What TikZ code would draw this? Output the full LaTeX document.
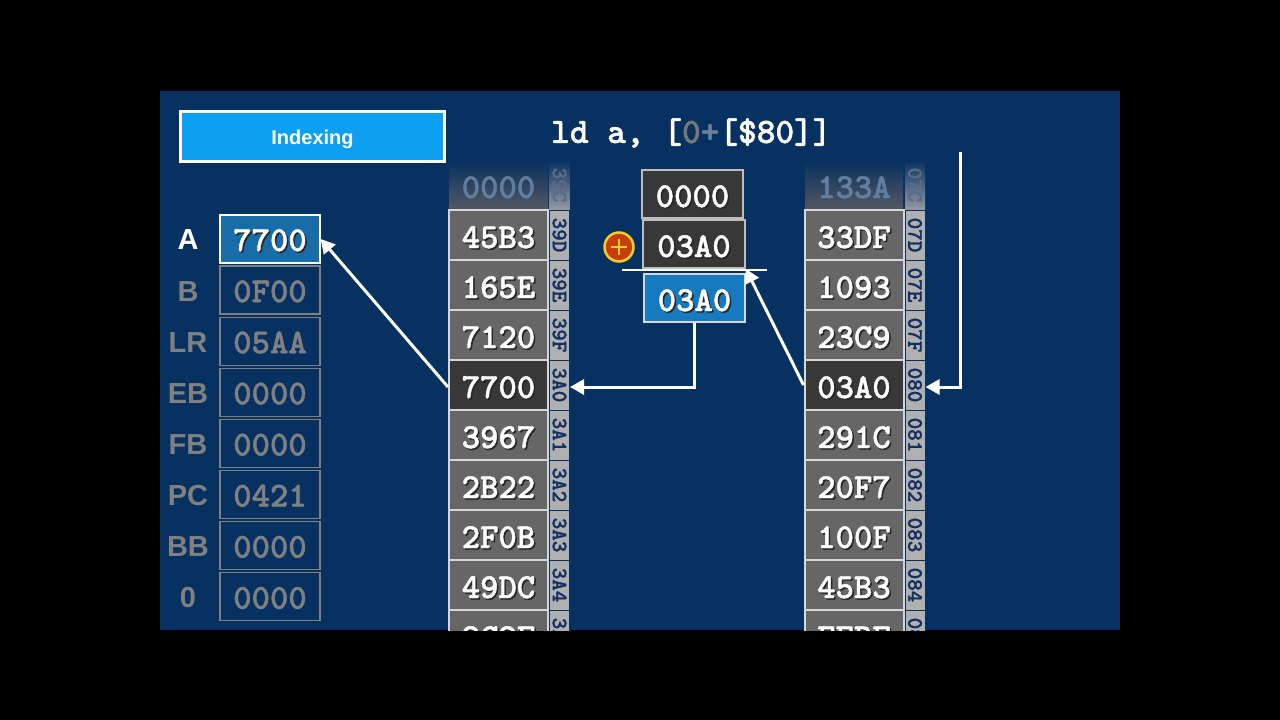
\documentclass[tikz,border=0pt]{standalone}
\usepackage{fontspec}
\setmainfont{Liberation Sans}
\newfontfamily\cour{lmmonolt10-bold.otf}[FakeBold=1.3]
\usetikzlibrary{arrows.meta}
\definecolor{bg}{RGB}{6,49,96}
\definecolor{titleblue}{RGB}{14,160,240}
\definecolor{ablue}{RGB}{24,108,168}
\definecolor{resblue}{RGB}{22,122,192}
\definecolor{cg}{RGB}{102,102,102}
\definecolor{cd}{RGB}{56,56,56}
\definecolor{sep}{RGB}{215,215,215}
\definecolor{addrfill}{RGB}{176,176,176}
\definecolor{addrtxt}{RGB}{18,48,100}
\definecolor{reggrey}{RGB}{128,128,128}
\definecolor{fadeg}{RGB}{84,88,98}
\definecolor{fadetxt}{RGB}{98,126,158}
\definecolor{fadeaddr}{RGB}{150,154,162}
\definecolor{opborder}{RGB}{190,190,190}
\definecolor{plusfill}{RGB}{200,62,10}
\definecolor{plusring}{RGB}{240,208,40}
\definecolor{zerogrey}{RGB}{120,120,120}
\definecolor{plusgrey}{RGB}{110,130,150}
\newcommand\shd[1]{\rlap{\kern1.5pt\raisebox{-1.5pt}[0pt][0pt]{\color{black!85}#1}}#1}
\begin{document}
\begin{tikzpicture}[x=1pt,y=-1pt,
  valfont/.style={font=\cour\fontsize{35}{40}\selectfont, text height=26pt, text depth=0pt},
  cell/.style={valfont, draw=sep, line width=2, minimum width=99, minimum height=50, inner sep=0, text=white},
  celltext/.style={valfont, inner sep=0, text=fadetxt},
  addr/.style={font=\cour\fontsize{22}{22}\selectfont, rotate=-90, minimum width=50, minimum height=20, inner sep=0, fill=addrfill, draw=bg, line width=1, text=addrtxt},
  addrtext/.style={font=\cour\fontsize{22}{22}\selectfont, rotate=-90, inner sep=0, text=addrtxt!45!fadeaddr},
  reglbl/.style={font=\bfseries\fontsize{29}{30}\selectfont, text=reggrey, inner sep=0},
  regbox/.style={valfont, text height=24pt, draw=reggrey, line width=1.3, minimum width=100, minimum height=48, inner sep=0, text=reggrey},
  opbox/.style={valfont, draw=opborder, line width=1.5, minimum width=101, minimum height=48, inner sep=0, fill=cd, text=white},
  arr/.style={draw=white, line width=3, -{Triangle[length=14pt,width=15pt]}}
]
\fill[black] (0,0) rectangle (1280,720);
\useasboundingbox (0,0) rectangle (1280,720);
\fill[bg] (160,91) rectangle (1120,630);

% title and instruction
\node[draw=white, line width=2.5, fill=titleblue, minimum width=264, minimum height=50, text=white,
      text height=20pt, font=\bfseries\fontsize{20}{24}\selectfont] (title) at (312.5,136.5) {Indexing};
\node[anchor=west, inner sep=0, text=white, font=\cour\fontsize{35.6}{40}\selectfont]
  (instr) at (551,133) {ld a, [{\color{zerogrey}0}{\color{plusgrey}+}[\$80]]};

% registers
\node[reglbl, text=white] (lA) at (188,240) {A};
\node[regbox, fill=ablue, draw=white, text=white] (rA) at (270,239) {\shd{7700}};
\foreach \l/\v [count=\k from 1] in {B/0F00,LR/05AA,EB/0000,FB/0000,PC/0421,BB/0000,0/0000}{
  \node[reglbl] (l\k) at (188,240+51.1*\k) {\l};
  \node[regbox] (r\k) at (270,239+51.1*\k) {\v};
}

\begin{scope}
\clip (160,91) rectangle (1120,630);
% memory column 1
\shade[top color=bg, bottom color=fadeg] (449,160) rectangle (548,210);
\node[celltext] (c1r0) at (498.5,185) {0000};
\shade[top color=bg, bottom color=fadeaddr] (549.5,160) rectangle (569.5,210);
\node[addrtext] (a1r0) at (559.5,185) {39C};
\foreach \v/\a/\f [count=\k from 1] in {45B3/39D/cg,165E/39E/cg,7120/39F/cg,7700/3A0/cd,3967/3A1/cg,2B22/3A2/cg,2F0B/3A3/cg,49DC/3A4/cg,2C2F/3A5/cg}{
  \node[cell, fill=\f] (c1r\k) at (498.5,185+50*\k) {\shd{\v}};
  \node[addr] (a1r\k) at (559.5,185+50*\k) {\a};
}
% memory column 2
\shade[top color=bg, bottom color=fadeg] (805,160) rectangle (903,210);
\node[celltext] (c2r0) at (854,185) {133A};
\shade[top color=bg, bottom color=fadeaddr] (905,160) rectangle (925,210);
\node[addrtext] (a2r0) at (915,185) {07C};
\foreach \v/\a/\f [count=\k from 1] in {33DF/07D/cg,1093/07E/cg,23C9/07F/cg,03A0/080/cd,291C/081/cg,20F7/082/cg,100F/083/cg,45B3/084/cg,EEBF/085/cg}{
  \node[cell, fill=\f] (c2r\k) at (854,185+50*\k) {\shd{\v}};
  \node[addr] (a2r\k) at (915,185+50*\k) {\a};
}
\end{scope}

% adder
\node[opbox] (op1) at (692.5,194) {\shd{0000}};
\node[opbox, minimum width=102] (op2) at (694,244) {\shd{03A0}};
\coordinate (sl) at (622,270);
\coordinate (sr) at (767,270);
\draw[white, line width=2] (sl) -- (sr);
\node[opbox, fill=resblue, draw=sep] (res) at (694.5,298) {\shd{03A0}};
\node[circle, fill=plusfill, draw=plusring, line width=2.5, minimum size=29, inner sep=0] (plus) at (619,247) {};
\draw[plusring, line width=2.6] ([yshift=-8]plus.center) -- ([yshift=8]plus.center)
      ([xshift=-8]plus.center) -- ([xshift=8]plus.center);

% connectors
\coordinate (src) at (960,152);
\draw[arr] (src) |- ([yshift=-2]a2r4.north);
\draw[arr] (c2r4.west) -- (op2.south east);
\draw[arr] (res.south) |- ([yshift=-2]a1r4.north);
\draw[arr] ([yshift=-2]c1r4.west) -- (rA.east);
\end{tikzpicture}
\end{document}
